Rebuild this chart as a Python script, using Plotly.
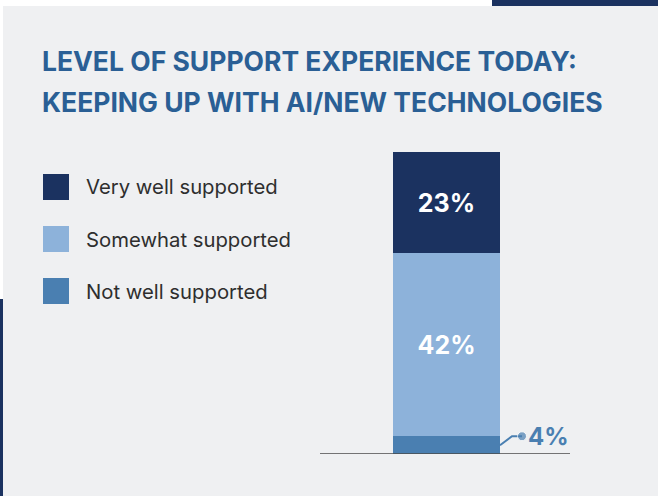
import plotly.graph_objects as go

# ---- data -------------------------------------------------------------
segments = ["Not well supported", "Somewhat supported", "Very well supported"]
values = [4, 42, 23]                      # percent, stacked bottom -> top
value_labels = ["4%", "42%", "23%"]
legend_order = ["Very well supported", "Somewhat supported", "Not well supported"]
title_lines = ["LEVEL OF SUPPORT EXPERIENCE TODAY:",
               "KEEPING UP WITH AI/NEW TECHNOLOGIES"]

# ---- style ------------------------------------------------------------
W, H = 658, 496
NAVY = "#1b3260"
colors = {"Very well supported": NAVY,
          "Somewhat supported": "#8db2da",
          "Not well supported": "#4a7fb1"}
BG = "#eff0f2"
TITLE_COLOR = "#2a5f95"
TEXT_COLOR = "#2e2e2e"
FONT = "Inter"


def px(x):
    return x / W


def py(y):
    return 1 - y / H


# plot geometry (pixels)
bar_left, bar_right = 393, 500
base_left, base_right = 320, 570
base_y, top_y = 454, 152
bar_w_px = bar_right - bar_left
total = sum(values)
y_px_per_unit = (base_y - top_y) / total

# x axis in "bar widths": bar centred at 0 with width 1
x0 = -(bar_left + bar_w_px / 2 - base_left) / bar_w_px
x1 = x0 + (base_right - base_left) / bar_w_px

fig = go.Figure()

for name, v, lab in zip(segments, values, value_labels):
    inside = name != "Not well supported"
    fig.add_trace(go.Bar(
        x=[0], y=[v], width=1, name=name,
        marker=dict(color=colors[name], line=dict(width=0)),
        text=[lab] if inside else None,
        textposition="inside" if inside else "none",
        insidetextanchor="middle", textangle=0,
        constraintext="none",
        textfont=dict(family=FONT, size=25, color="white", weight="bold"),
        showlegend=False, hoverinfo="skip",
    ))

# leader line for the small bottom segment
small_v = values[0]
y_start = small_v / 2
y_elbow = y_start + 9 / y_px_per_unit
lx = [0.5, 0.5 + 12 / bar_w_px, 0.5 + 22 / bar_w_px]
ly = [y_start, y_elbow, y_elbow]
fig.add_trace(go.Scatter(
    x=lx, y=ly, mode="lines+markers",
    line=dict(color=colors["Not well supported"], width=2),
    marker=dict(size=[0, 0, 9], color=colors["Not well supported"]),
    showlegend=False, hoverinfo="skip", cliponaxis=False,
))

annotations = [dict(
    x=lx[-1], y=ly[-1], xref="x", yref="y", text=value_labels[0],
    showarrow=False, xanchor="left", yanchor="middle", xshift=4,
    font=dict(family=FONT, size=24, color=colors["Not well supported"],
              weight="bold"),
)]

# title
for i, line in enumerate(title_lines):
    annotations.append(dict(
        x=px(40), y=py(61 + 41 * i), xref="paper", yref="paper",
        text=line, showarrow=False, xanchor="left", yanchor="middle",
        font=dict(family=FONT, size=26.5, color=TITLE_COLOR, weight="bold"),
    ))

shapes = [
    # panel background
    dict(type="rect", xref="paper", yref="paper", x0=px(3), x1=1,
         y0=0, y1=py(6), fillcolor=BG, line=dict(width=0), layer="below"),
    # navy accents
    dict(type="rect", xref="paper", yref="paper", x0=px(492), x1=1,
         y0=py(6), y1=1, fillcolor=NAVY, line=dict(width=0), layer="below"),
    dict(type="rect", xref="paper", yref="paper", x0=0, x1=px(3),
         y0=0, y1=py(299), fillcolor=NAVY, line=dict(width=0), layer="below"),
    # baseline
    dict(type="line", xref="x domain", yref="y", x0=0, x1=1, y0=0, y1=0,
         line=dict(color="#4a4a4a", width=1.5)),
]

# legend swatches + labels
for i, name in enumerate(legend_order):
    top = 174 + 52 * i
    shapes.append(dict(type="rect", xref="paper", yref="paper",
                       x0=px(43), x1=px(69), y0=py(top + 26), y1=py(top),
                       fillcolor=colors[name], line=dict(width=0)))
    annotations.append(dict(
        x=px(84), y=py(top + 13), xref="paper", yref="paper", text=name,
        showarrow=False, xanchor="left", yanchor="middle",
        font=dict(family=FONT, size=20.3, color=TEXT_COLOR),
    ))

fig.update_layout(
    width=W, height=H, margin=dict(l=0, r=0, t=0, b=0, pad=0),
    paper_bgcolor="white", plot_bgcolor="rgba(0,0,0,0)",
    barmode="stack", bargap=0,
    xaxis=dict(domain=[px(base_left), px(base_right)], range=[x0, x1],
               visible=False, fixedrange=True),
    yaxis=dict(domain=[py(base_y), py(top_y)], range=[0, total],
               visible=False, fixedrange=True),
    shapes=shapes, annotations=annotations, showlegend=False,
)

fig.write_html("out.html", config={"displayModeBar": False})
